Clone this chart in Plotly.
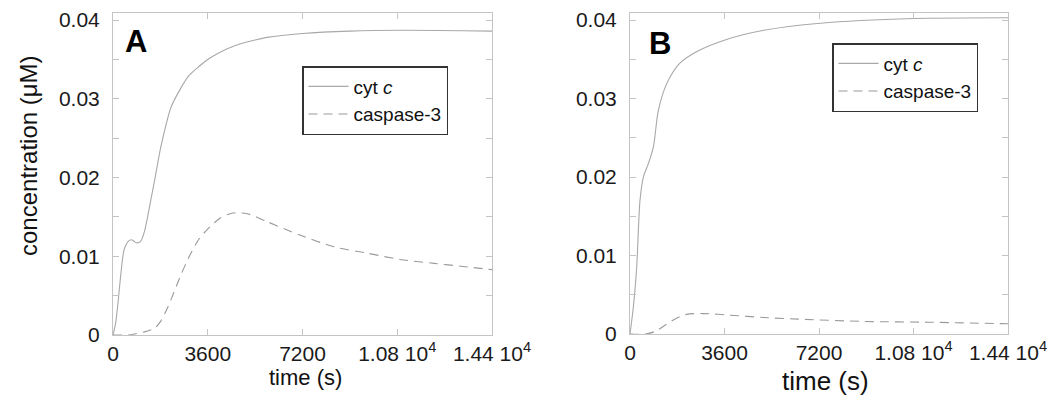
import plotly.graph_objects as go

W, H = 1063, 402

# Panel A data (time in s, concentration in uM)
tA_cyt = [0, 100, 200, 300, 420, 580, 700, 800, 900, 1050, 1200, 1400, 1600, 1800, 2000, 2200,
          2550, 2900, 3300, 3600, 4000, 4600, 5200, 5850, 7200, 9000, 11000, 14400]
cA_cyt = [0, 0.0015, 0.0044, 0.0078, 0.0108, 0.0119, 0.0121, 0.0119, 0.0117, 0.0119, 0.0132,
          0.0165, 0.0200, 0.0236, 0.0265, 0.0289, 0.0312, 0.0330, 0.0342, 0.0350, 0.0358, 0.0367,
          0.0373, 0.0378, 0.0383, 0.0386, 0.0387, 0.0386]
tA_casp = [0, 600, 900, 1200, 1400, 1600, 1800, 2050, 2300, 2550, 2900, 3250, 3550, 4050, 4550,
           5100, 5850, 7100, 8400, 9650, 10900, 12200, 13300, 14400]
cA_casp = [0, 0, 0.0002, 0.0004, 0.0006, 0.0009, 0.0017, 0.0033, 0.0053, 0.0074, 0.0100, 0.0121,
           0.0133, 0.0148, 0.0155, 0.0154, 0.0144, 0.0127, 0.0112, 0.0104, 0.0096, 0.0091, 0.0087,
           0.0083]

# Panel B data
tB_cyt = [0, 130, 255, 380, 510, 700, 890, 1080, 1400, 1900, 2550, 3650, 5100, 7250, 10800, 14400]
cB_cyt = [0, 0.0035, 0.0085, 0.0170, 0.0200, 0.0217, 0.0238, 0.0285, 0.0319, 0.0345, 0.0360,
          0.0375, 0.0387, 0.0396, 0.0402, 0.0403]
tB_casp = [0, 600, 1000, 1600, 2150, 2800, 3800, 5100, 6400, 8900, 11400, 14400]
cB_casp = [0, 0, 0.0004, 0.0017, 0.0025, 0.0026, 0.0024, 0.0021, 0.0019, 0.0016, 0.0015, 0.0013]

x_ticks = [0, 3600, 7200, 10800, 14400]
x_ticktext = ["0", "3600", "7200", "1.08 10<sup>4</sup>", "1.44 10<sup>4</sup>"]
y_ticks = [0, 0.01, 0.02, 0.03, 0.04]
y_ticktext = ["0", "0.01", "0.02", "0.03", "0.04"]

FONT = "Liberation Sans, Arial, sans-serif"
cyt_color = "#a8a8a8"
casp_color = "#9a9a9a"

fig = go.Figure()
fig.add_trace(go.Scatter(x=tA_cyt, y=cA_cyt, mode="lines", name="cyt <i>c</i>",
                         line=dict(color=cyt_color, width=1.1, shape="spline", smoothing=0.8),
                         xaxis="x", yaxis="y", legend="legend"))
fig.add_trace(go.Scatter(x=tA_casp, y=cA_casp, mode="lines", name="caspase-3",
                         line=dict(color=casp_color, width=1.1, dash="9px,6px", shape="spline", smoothing=0.8),
                         xaxis="x", yaxis="y", legend="legend"))
fig.add_trace(go.Scatter(x=tB_cyt, y=cB_cyt, mode="lines", name="cyt <i>c</i>",
                         line=dict(color=cyt_color, width=1.1, shape="spline", smoothing=0.8),
                         xaxis="x2", yaxis="y2", legend="legend2"))
fig.add_trace(go.Scatter(x=tB_casp, y=cB_casp, mode="lines", name="caspase-3",
                         line=dict(color=casp_color, width=1.1, dash="9px,6px", shape="spline", smoothing=0.8),
                         xaxis="x2", yaxis="y2", legend="legend2"))

axis_common = dict(showgrid=False, zeroline=False, showline=True, linecolor="#c4c4c4", linewidth=1,
                   mirror="ticks", ticks="inside", ticklen=6, tickcolor="#c4c4c4",
                   tickfont=dict(family=FONT, size=21, color="#1a1a1a"), automargin=False)

def xax(domain, anchor):
    return dict(axis_common, domain=domain, anchor=anchor, range=[0, 14400],
                tickmode="array", tickvals=x_ticks, ticktext=x_ticktext, ticklabelstandoff=0)

def yax(domain, anchor):
    return dict(axis_common, domain=domain, anchor=anchor, range=[0, 0.0409],
                tickmode="array", tickvals=y_ticks, ticktext=y_ticktext, ticklabelstandoff=8,
                minor=dict(dtick=0.005, tick0=0, ticks="inside", ticklen=6, tickcolor="#c4c4c4"))

legend_common = dict(bgcolor="white", bordercolor="#333333", borderwidth=1.5,
                     font=dict(family=FONT, size=19, color="#111111"),
                     xanchor="left", yanchor="top", tracegroupgap=0, itemwidth=40)

def label(text, x, y, size, bold=False, angle=0):
    return dict(text=text, x=x / W, y=1 - y / H, xref="paper", yref="paper",
                xanchor="center", yanchor="middle", textangle=angle, showarrow=False,
                font=dict(family=FONT, size=size, color="#000000" if bold else "#111111"))

fig.update_layout(
    width=W, height=H, margin=dict(l=0, r=0, t=0, b=0),
    paper_bgcolor="white", plot_bgcolor="white",
    xaxis=xax([113 / W, 492 / W], "y"),
    yaxis=yax([1 - 335 / H, 1 - 13 / H], "x"),
    xaxis2=xax([630 / W, 1008 / W], "y2"),
    yaxis2=yax([1 - 334 / H, 1 - 13 / H], "x2"),
    legend=dict(legend_common, x=302 / W, y=1 - 66 / H),
    legend2=dict(legend_common, x=832 / W, y=1 - 43 / H),
    annotations=[
        label("concentration (μM)", 28, 156, 24, angle=-90),
        label("time (s)", 305, 377, 22),
        label("time (s)", 825, 381, 26),
        label("<b>A</b>", 136, 41, 31, bold=True),
        label("<b>B</b>", 660, 43, 31, bold=True),
    ],
)

fig.write_html("out.html", config={"displayModeBar": False},
               post_script="document.body.style.margin='0px';")
